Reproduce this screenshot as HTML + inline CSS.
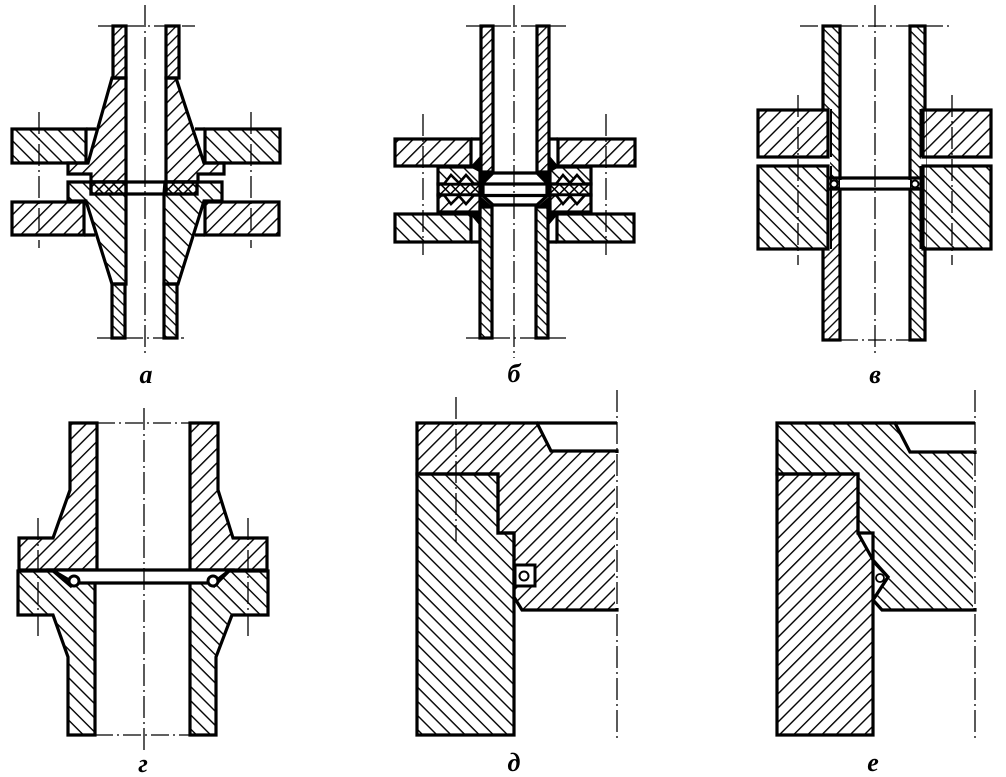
<!DOCTYPE html>
<html><head><meta charset="utf-8"><style>
html,body{margin:0;padding:0;background:#fff}
svg{display:block}
.o{stroke:#000;stroke-width:3.2;stroke-linejoin:miter;stroke-linecap:square}
.n{fill:none;stroke:#000;stroke-width:3.2}
.c{fill:none;stroke:#000;stroke-width:1.3;stroke-dasharray:22 4 2 4}
.b{fill:none;stroke:#000;stroke-width:1.3}
text{font-family:"Liberation Serif","Noto Serif CJK SC",serif;font-style:italic;font-weight:bold;font-size:26px;text-anchor:middle;fill:#000}
</style></head><body>
<svg width="1006" height="777" viewBox="0 0 1006 777" xmlns="http://www.w3.org/2000/svg">
<defs>
<pattern id="f" width="10" height="10" patternUnits="userSpaceOnUse" patternTransform="rotate(-45)"><rect width="10" height="1.4" fill="#000"/></pattern>
<pattern id="r" width="10" height="10" patternUnits="userSpaceOnUse" patternTransform="rotate(45)"><rect width="10" height="1.4" fill="#000"/></pattern>
<pattern id="fs" width="10" height="7.5" patternUnits="userSpaceOnUse" patternTransform="rotate(-45)"><rect width="10" height="1.3" fill="#000"/></pattern>
<pattern id="rs" width="10" height="7.5" patternUnits="userSpaceOnUse" patternTransform="rotate(45)"><rect width="10" height="1.3" fill="#000"/></pattern>
<pattern id="x" width="7" height="7" patternUnits="userSpaceOnUse" patternTransform="rotate(45)"><rect width="7" height="1.5" fill="#000"/><rect width="1.5" height="7" fill="#000"/></pattern>
</defs>
<rect width="1006" height="777" fill="#fff"/>

<!-- a -->
<g>
<polygon class="o" fill="url(#fs)" points="113,26 126,26 126,78 113,78"/>
<polygon class="o" fill="url(#fs)" points="166,26 179,26 179,78 166,78"/>
<polygon class="o" fill="url(#rs)" points="112,284 125,284 125,338 112,338"/>
<polygon class="o" fill="url(#rs)" points="164,284 177,284 177,338 164,338"/>
<polygon class="o" fill="url(#f)" points="112,78 126,78 126,182 91,182 91,174 68,174 68,163 88,163"/>
<polygon class="o" fill="url(#f)" points="166,78 176,78 204,163 224,163 224,174 198,174 198,182 166,182"/>
<polygon class="o" fill="url(#r)" points="68,182 126,182 126,284 112,284 86,201 68,201"/>
<polygon class="o" fill="url(#r)" points="165,182 222,182 222,201 204,201 178,284 164,284 164,194"/>
<rect class="o" fill="#fff" x="91" y="182" width="35" height="12"/>
<rect class="o" fill="url(#x)" x="91" y="182" width="35" height="12"/>
<rect class="o" fill="#fff" x="166" y="182" width="31" height="12"/>
<rect class="o" fill="url(#x)" x="166" y="182" width="31" height="12"/>
<rect class="o" fill="url(#r)" x="12" y="129" width="74" height="34"/>
<rect class="o" fill="url(#r)" x="205" y="129" width="75" height="34"/>
<rect class="o" fill="url(#f)" x="12" y="202" width="72" height="33"/>
<rect class="o" fill="url(#f)" x="205" y="202" width="74" height="33"/>
<path class="n" d="M86 129H96M195 129H205M84 235H95M195 235H205M126 182H166M126 194H166"/>
<path class="c" d="M145 5V356M39 112V248M251 112V248"/>
<path class="b" stroke-dasharray="18 4 2 4" d="M98 26H195M97 338H184"/>
</g>

<!-- b -->
<g>
<rect class="o" fill="url(#fs)" x="481" y="26" width="12" height="146"/>
<rect class="o" fill="url(#fs)" x="537" y="26" width="12" height="146"/>
<rect class="o" fill="url(#rs)" x="480" y="207" width="12" height="131"/>
<rect class="o" fill="url(#rs)" x="536" y="207" width="12" height="131"/>
<rect class="o" fill="url(#f)" x="395" y="139" width="76" height="27"/>
<rect class="o" fill="url(#f)" x="558" y="139" width="77" height="27"/>
<rect class="o" fill="url(#r)" x="395" y="214" width="76" height="28"/>
<rect class="o" fill="url(#r)" x="557" y="214" width="77" height="28"/>
<path class="n" d="M471 139H481M549 139H558M471 242H480M548 242H557"/>
<rect class="o" fill="url(#r)" x="438" y="167" width="42" height="17"/>
<rect class="o" fill="url(#x)" x="438" y="184" width="42" height="11"/>
<rect class="o" fill="url(#f)" x="438" y="195" width="42" height="17"/>
<rect class="o" fill="url(#r)" x="550" y="167" width="41" height="17"/>
<rect class="o" fill="url(#x)" x="550" y="184" width="41" height="11"/>
<rect class="o" fill="url(#f)" x="550" y="195" width="41" height="17"/>
<path fill="#fff" stroke="#000" stroke-width="2.6" d="M444 184L451 175L459 183L466 175L474 184ZM556 184L563 175L570 183L577 175L585 184ZM444 195L451 204L459 196L466 204L474 195Z"/>
<path fill="#fff" stroke="#000" stroke-width="2.6" d="M556 195L563 204L570 196L577 204L585 195Z"/>
<polygon class="o" fill="#fff" points="493,173 537,173 547,183 547,196 537,205 493,205 483,196 483,183"/>
<path class="n" d="M482 184H548M482 195.500H548"/>
<path fill="#000" d="M470 167L481 155V173ZM559 167L549 155V173ZM479 171L493 171L481 185ZM551 171L537 171L549 185ZM479 195L493 207L479 209ZM551 195L537 207L551 209ZM469 213L480 213L480 226ZM559 213L548 213L548 226Z"/>
<path class="c" d="M514 5V358M423 114V255M606 114V255"/>
<path class="b" stroke-dasharray="18 4 2 4" d="M466 26H481M493 26H537M549 26H566M466 338H480M492 338H536M548 338H566"/>
</g>

<!-- v -->
<g>
<rect class="o" fill="url(#rs)" x="823" y="26" width="17" height="162"/>
<rect class="o" fill="url(#fs)" x="823" y="188" width="17" height="152"/>
<rect class="o" fill="url(#rs)" x="910" y="26" width="15" height="314"/>
<rect fill="#fff" x="815" y="109" width="15" height="140"/>
<rect fill="#fff" x="921" y="109" width="5" height="140"/>
<path class="n" stroke-width="2" style="stroke-width:2" d="M831 109V157M831 166V249M920.500 109V157M920.500 166V249"/>
<rect class="o" fill="url(#f)" x="758" y="110" width="70" height="47"/>
<rect class="o" fill="url(#f)" x="923" y="110" width="68" height="47"/>
<rect class="o" fill="url(#r)" x="758" y="166" width="70" height="83"/>
<rect class="o" fill="url(#r)" x="923" y="166" width="68" height="83"/>
<path class="n" d="M829 178H921M829 189H921"/>
<rect fill="#fff" x="840" y="180" width="70" height="7.500"/>
<circle cx="834" cy="184" r="3.500" fill="#fff" stroke="#000" stroke-width="2"/>
<circle cx="915" cy="184" r="3.500" fill="#fff" stroke="#000" stroke-width="2"/>
<path class="c" d="M875 5V355M798 95V265M952 95V265"/>
<path class="b" stroke-dasharray="18 4 2 4" d="M840 26H910M925 26H950M800 26H823M840 340H910"/>
</g>

<!-- g -->
<g>
<polygon class="o" fill="url(#f)" points="70,423 97,423 97,570 19,570 19,538 53,538 70,490"/>
<polygon class="o" fill="url(#f)" points="190,423 218,423 218,490 233,538 267,538 267,570 190,570"/>
<polygon class="o" fill="url(#r)" points="18,571 97,571 95,583 95,735 68,735 68,657 53,615 18,615"/>
<polygon class="o" fill="url(#r)" points="190,571 268,571 268,615 232,615 216,657 216,735 190,735"/>
<polygon class="o" fill="#fff" points="52,570 230,570 213,583 74,583"/>
<path class="n" d="M52 570L72 587M230 570L213 587"/>
<circle cx="74" cy="581" r="5" fill="#fff" stroke="#000" stroke-width="3"/>
<circle cx="213" cy="581" r="5" fill="#fff" stroke="#000" stroke-width="3"/>
<path class="c" d="M144 408V752M38 518V636M248 518V636"/>
<path class="b" stroke-dasharray="18 4 2 4" d="M97 423H190M95 735H190"/>
</g>

<!-- d -->
<g>
<polygon class="o" fill="url(#f)" points="417,423 537,423 551,451 617,451 617,610 522,610 514,597 514,533 498,533 498,474 417,474"/>
<polygon class="o" fill="url(#r)" points="417,474 498,474 498,533 514,533 514,735 417,735"/>
<path fill="none" stroke="#fff" stroke-width="4" d="M617 453V608"/>
<path class="n" d="M537 423H617"/>
<rect x="515" y="565" width="20" height="21" fill="#fff" stroke="#000" stroke-width="3"/>
<circle cx="524" cy="576" r="4.500" fill="#fff" stroke="#000" stroke-width="2"/>
<path class="c" d="M456 397V542M617 390V740"/>
</g>

<!-- e -->
<g>
<polygon class="o" fill="url(#r)" points="777,423 895,423 910,452 975,452 975,610 882,610 873,600 888,577 873,560 873,533 858,533 858,474 777,474"/>
<polygon class="o" fill="url(#f)" points="777,474 858,474 858,533 873,560 873,735 777,735"/>
<path fill="none" stroke="#fff" stroke-width="4" d="M975 454V608"/>
<path class="n" d="M895 423H975"/>
<polygon fill="#fff" points="875,565 887,577 875,595"/>
<path class="n" d="M873 561L888 577L873 600"/>
<circle cx="880" cy="578" r="4" fill="#fff" stroke="#000" stroke-width="1.800"/>
<path class="c" d="M975 390V740"/>
</g>

<text x="146" y="383">а</text>
<text x="514" y="382">б</text>
<text x="875" y="383">в</text>
<text x="143" y="772">г</text>
<text x="514" y="771">д</text>
<text x="873" y="771">е</text>
</svg>
</body></html>
